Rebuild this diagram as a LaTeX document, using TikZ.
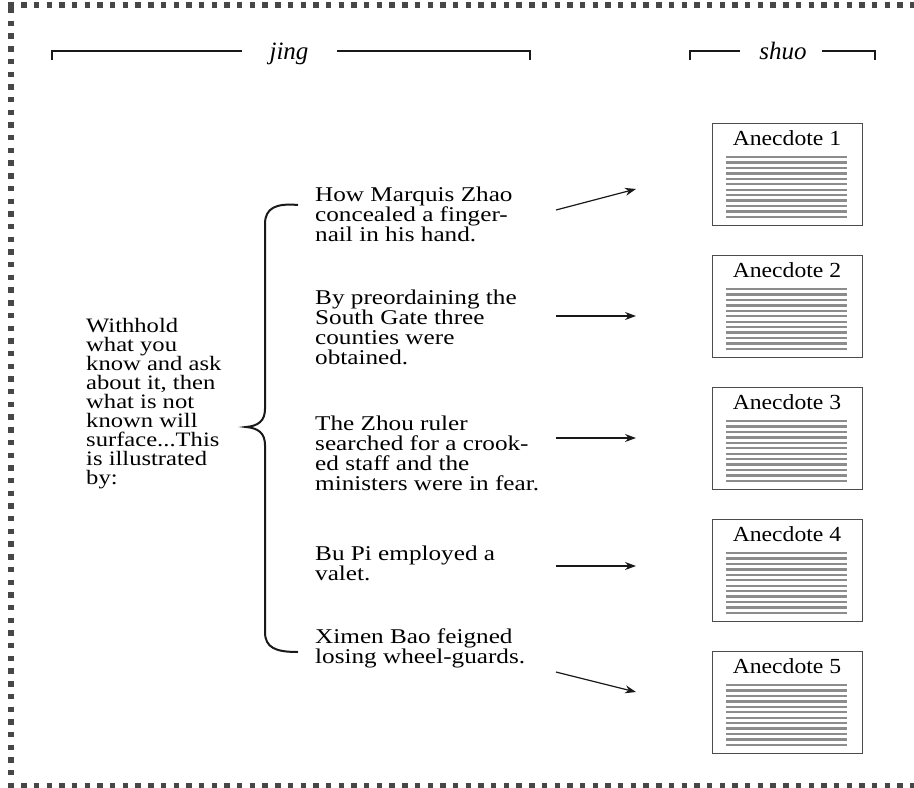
\documentclass[tikz,border=0pt]{standalone}
\usepackage{fontspec}
\setmainfont{Liberation Serif}[FakeStretch=1.2]
\newfontfamily\hdrfont{Liberation Serif}
\newfontfamily\labfont{Liberation Serif}[FakeStretch=1.1]
\usetikzlibrary{arrows.meta}
\begin{document}
\begin{tikzpicture}[x=1pt,y=-1pt,
  border/.style={line width=5.2pt, draw=black!72, dash pattern=on 5.4pt off 7.3pt},
  hdr/.style={line width=1.4pt, draw=black!90},
  hdrtxt/.style={anchor=base, inner sep=0, font=\hdrfont\fontsize{25}{25}\selectfont\itshape},
  txt/.style={anchor=north west, inner sep=0, align=left, font=\fontsize{21}{20}\selectfont},
  ltxt/.style={txt, font=\fontsize{20.5}{19}\selectfont},
  abox/.style={draw=black!70, line width=0.9pt, minimum width=150pt, minimum height=102pt, anchor=north west, inner sep=0},
  alabel/.style={anchor=base, inner sep=0, font=\labfont\fontsize{21.5}{21.5}\selectfont},
  gl/.style={draw=black!45, line width=2.4pt},
  brace/.style={line width=2pt, draw=black!90},
  arr/.style={-{Stealth[length=11pt,width=8pt]}, line width=1.2pt, draw=black!90}]
\useasboundingbox (0,0) rectangle (914,788);
% dotted frame
\draw[border] (8.4,5) -- (914,5);
\draw[border] (11,8) -- (11,788);
\draw[border] (8.4,786) -- (914,786);
% headers
\draw[hdr] (52,60) -- (52,51) -- (242,51);
\node[hdrtxt] (jing) at (289,59) {jing};
\draw[hdr] (337,51) -- (530,51) -- (530,60);
\draw[hdr] (690,60) -- (690,51) -- (740,51);
\node[hdrtxt] (shuo) at (783,59) {shuo};
\draw[hdr] (822,51) -- (875,51) -- (875,60);
% left text
\node[ltxt] (jingtext) at (86,316) {\rule{0pt}{16pt}Withhold\\what you\\know and ask\\about it, then\\what is not\\known will\\surface...This\\is illustrated\\by:};
% brace
\draw[brace] (298,205) .. controls (276,203) and (265,208) .. (265,224) -- (265,409)
  .. controls (265,421) and (258,426) .. (246,427)
  .. controls (258,428) and (265,433) .. (265,445) -- (265,632)
  .. controls (265,648) and (276,652) .. (298,652);
% middle texts
\node[txt] (t1) at (315,185) {\rule{0pt}{16pt}How Marquis Zhao\\concealed a finger-\\nail in his hand.};
\node[txt] (t2) at (315,288) {\rule{0pt}{16pt}By preordaining the\\South Gate three\\counties were\\obtained.};
\node[txt] (t3) at (315,414) {\rule{0pt}{16pt}The Zhou ruler\\searched for a crook-\\ed staff and the\\ministers were in fear.};
\node[txt] (t4) at (315,544) {\rule{0pt}{16pt}Bu Pi employed a\\valet.};
\node[txt] (t5) at (315,627) {\rule{0pt}{16pt}Ximen Bao feigned\\losing wheel-guards.};
% anecdote boxes
\foreach \n/\t in {1/123,2/255,3/387,4/519,5/651}{
  \node[abox] (b\n) at (712,\t) {};
  \node[alabel] (l\n) at (787,\t+22) {Anecdote \n};
  \foreach \i in {0,...,11}{
    \draw[gl] (726,\t+34+\i*5.45) -- (847,\t+34+\i*5.45);
  }
}
% arrows
\coordinate (s1) at (556,210); \coordinate (e1) at (636,189);
\coordinate (s2) at (556,316); \coordinate (e2) at (636,316);
\coordinate (s3) at (556,438); \coordinate (e3) at (636,438);
\coordinate (s4) at (556,566); \coordinate (e4) at (636,566);
\coordinate (s5) at (556,672); \coordinate (e5) at (636,692);
\foreach \k in {1,...,5}{\draw[arr] (s\k) -- (e\k);}
\end{tikzpicture}
\end{document}
